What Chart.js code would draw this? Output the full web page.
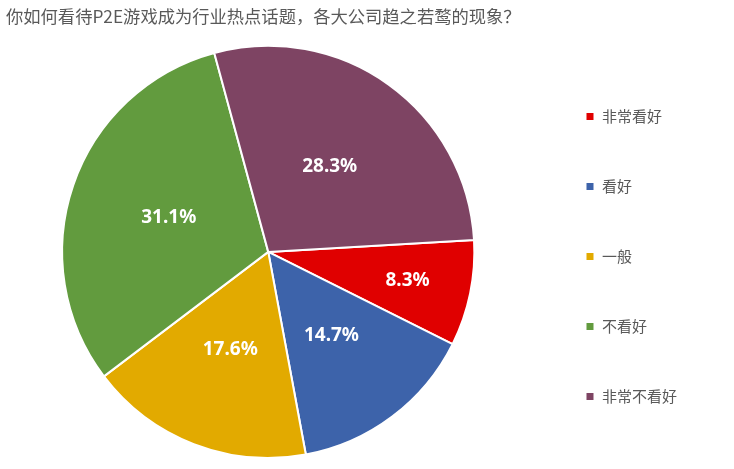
<!DOCTYPE html>
<html>
<head>
<meta charset="utf-8">
<script src="https://cdn.jsdelivr.net/npm/chart.js@4.4.0/dist/chart.umd.min.js"></script>
<style>
  html, body { margin: 0; padding: 0; background: #fff; }
  #wrap { width: 734px; height: 469px; }
</style>
</head>
<body>
<div id="wrap"><canvas id="pie-chart"></canvas></div>
<script>
// Datos
var titulo = '你如何看待P2E游戏成为行业热点话题，各大公司趋之若鹜的现象？';
var categorias = ['非常看好', '看好', '一般', '不看好', '非常不看好'];
var valores = [8.3, 14.7, 17.6, 31.1, 28.3];
var colores = ['#E00000', '#3D63AA', '#E2AA00', '#629B3E', '#7E4463'];

// Etiquetas de porcentaje dentro de cada sector
var etiquetas = {
    id: 'etiquetas',
    afterDatasetsDraw: function (chart) {
        var ctx = chart.ctx;
        var meta = chart.getDatasetMeta(0);
        ctx.save();
        ctx.fillStyle = '#fff';
        ctx.font = 'bold 19px "Noto Sans", sans-serif';
        ctx.textAlign = 'center';
        ctx.textBaseline = 'middle';
        meta.data.forEach(function (arc, i) {
            var p = arc.getProps(['x', 'y', 'startAngle', 'endAngle', 'outerRadius']);
            var mid = (p.startAngle + p.endAngle) / 2;
            var r = p.outerRadius * (valores[i] < 10 ? 0.69 : 0.51);
            ctx.fillText(valores[i].toFixed(1) + '%', p.x + Math.cos(mid) * r, p.y + Math.sin(mid) * r);
        });
        ctx.restore();
    }
};

var config = {
    type: 'pie',
    data: {
        labels: categorias,
        datasets: [{
            data: valores,
            backgroundColor: colores,
            borderColor: '#fff',
            borderWidth: 2
        }]
    },
    options: {
        responsive: true,
        maintainAspectRatio: false,
        animation: false,
        rotation: 86.7,
        layout: { padding: { left: 6, right: 47, top: 0, bottom: 10 } },
        plugins: {
            title: {
                display: true,
                text: titulo,
                align: 'start',
                color: '#595959',
                font: { size: 17.3, family: '"Noto Sans CJK SC", sans-serif', weight: 'normal' },
                padding: { top: 6, bottom: 18 }
            },
            legend: {
                position: 'right',
                align: 'end',
                labels: {
                    boxWidth: 9,
                    boxHeight: 9,
                    padding: 55,
                    color: '#595959',
                    font: { size: 15, family: '"Noto Sans CJK SC", sans-serif' }
                }
            },
            tooltip: { enabled: false }
        }
    },
    plugins: [etiquetas]
};

var ctx = document.getElementById('pie-chart').getContext('2d');
new Chart(ctx, config);
</script>
</body>
</html>
